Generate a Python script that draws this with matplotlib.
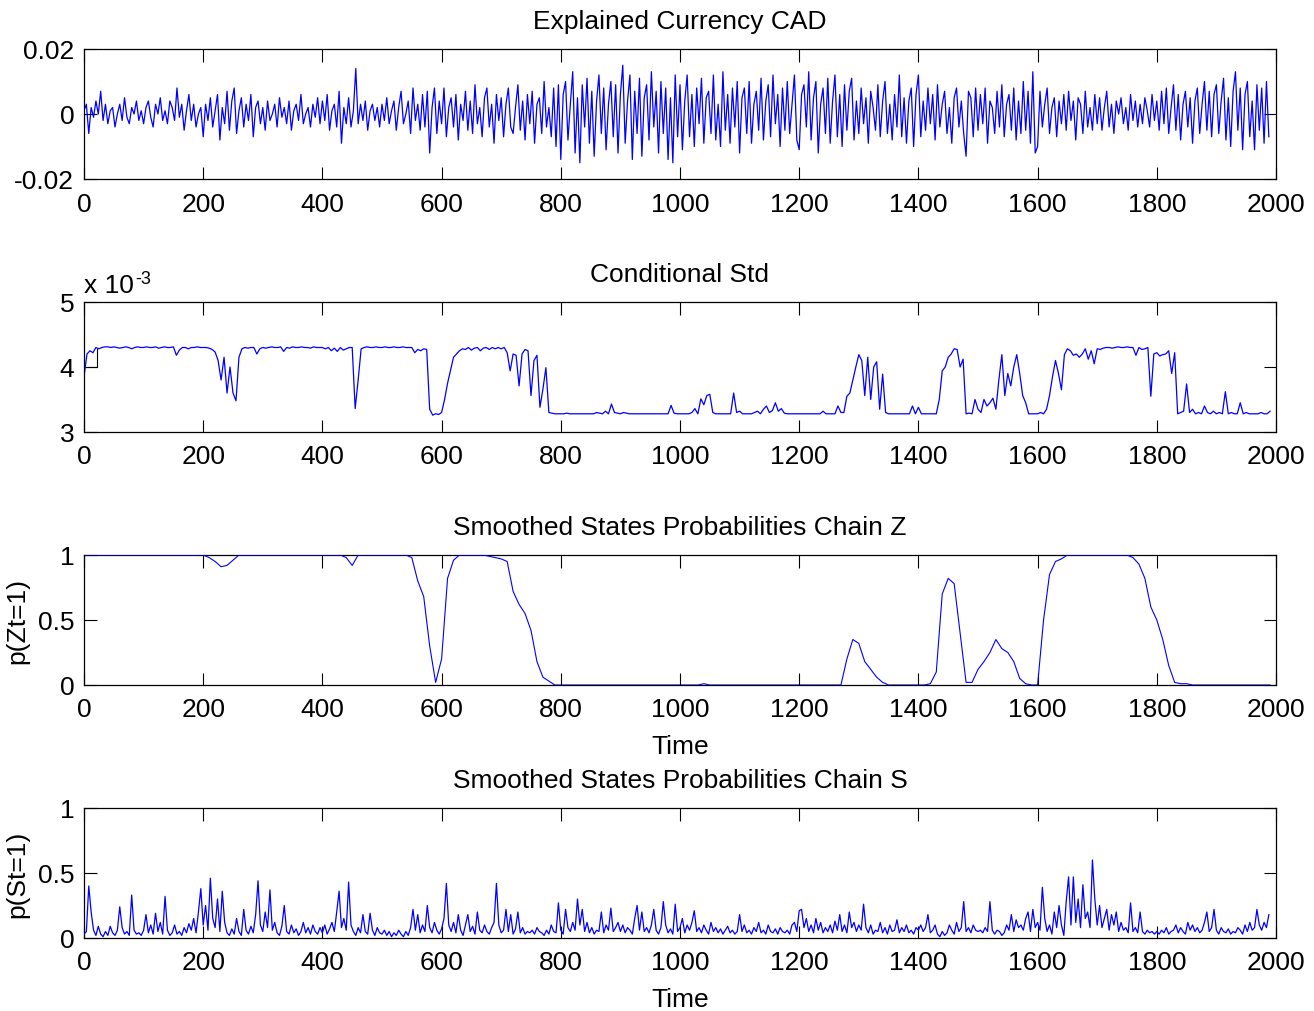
import numpy as np
import matplotlib
matplotlib.use("Agg")
import matplotlib.pyplot as plt

# ---------------- data ----------------
step_fast = 4    # time step of CAD and chain S series
step_std = 5     # time step of the conditional std series
step_z = 10      # time step of chain Z series

# Explained Currency CAD, in units of 1e-3 (25 values per 100 time units)
cad_milli = [
    1, 3, -6, 2, -1, 4, 0, 7, -2, 3, -3, 1, 2, -4, 0, 3, -2, 5, -1, -3, 2, 0, 4, -2, 1,
    -3, 2, 4, -1, -4, 3, 0, 5, -2, 1, -3, 4, 2, -2, 8, -1, 3, -5, 1, 6, -2, 3, -4, 0, 2,
    -7, 3, -2, 5, -4, 1, 6, -8, 2, -3, 7, -5, 4, 8, -6, 1, 5, -4, 3, -2, 6, -7, 2, 4, -3,
    2, -5, 4, -2, 0, 3, -4, 5, -1, 2, -3, 4, -5, 1, 3, -2, 6, -3, 0, 2, -4, 3, -1, 5, -3,
    4, -2, 6, -5, 1, 3, -4, 7, -9, 2, -3, 5, -4, 1, 14, -3, 3, -2, 4, -5, 1, 3, -2, 2, -4,
    3, -2, 5, -3, 1, 4, -5, 2, 7, -3, 0, 4, -6, 8, -2, 3, -5, 6, -4, 7, -12, 2, 8, -6, 4,
    -3, 8, -7, 2, 5, -4, 6, -8, 3, -2, 7, -5, 4, -6, 9, -3, 2, -7, 5, 8, -4, 3, -9, 6, -2,
    5, -7, 3, 8, -4, -6, 2, 9, -5, 4, -8, 6, -3, 7, -9, 3, 5, -6, 10, -4, 2, -7, 8, -10, 9,
    -14, 6, 10, -8, 3, 13, -12, 5, -15, 9, -4, 11, -9, 7, -13, 4, 12, -6, 8, -11, 3, 10, -7, 9, -12,
    6, 15, -9, 4, 12, -14, 7, -6, 11, -13, 5, 9, -8, 13, -4, 7, -12, 10, -6, 8, -14, 5, -15, 12, -7,
    9, -11, 4, 12, -7, 6, -10, 8, -3, 11, -9, 5, 7, -6, 12, -8, 3, -10, 13, -5, 6, -9, 8, -4, 10,
    -12, 5, 8, -6, 10, -9, 3, 7, -5, 11, -8, 4, 9, -7, 12, -3, 6, -10, 8, -5, 10, -6, 3, 12, -8,
    -11, 6, 9, -4, 13, -8, 5, 10, -12, 3, 8, -6, 11, -9, 4, 12, -7, 6, -10, 9, -5, 7, 11, -8, 4,
    -6, 8, -3, 5, -9, 7, 2, -5, 9, -7, 4, 10, -6, 3, -8, 6, -4, 12, -7, 5, -9, 4, 8, -10, 6,
    12, -7, 4, -5, 8, -3, 6, -8, 9, -4, 3, 7, -6, 2, -9, 5, 8, -4, 4, -6, -13, 7, 5, -7, 8,
    -5, 6, -3, 8, -9, 4, 2, -6, 7, -4, 9, -7, 3, 6, -5, 8, -8, 4, -6, 10, -5, 7, -9, 13, -12,
    -10, 7, -4, 3, 8, -6, 2, 5, -7, 4, -3, 6, -5, 7, -2, 4, -8, 5, 3, -6, 7, -4, 2, -5, 6,
    -3, 5, -5, 2, 7, -4, 3, -6, 4, 0, 5, -3, 2, -5, 6, -2, 4, -4, 3, -3, 5, 1, -4, 6, -2,
    4, -5, 7, -3, 8, -6, 2, 9, -5, 6, -8, 3, 7, -4, 5, -9, 4, 8, -6, 3, 10, -5, 7, -7, 6,
    9, -6, 4, 11, -8, 5, -10, 7, 13, -5, 8, -11, 6, 10, -7, 4, -11, 9, -5, 8, -9, 10, -7,
]

# Conditional Std, in units of 1e-3 (20 values per 100 time units)
cond_std_milli = [
    3.85, 4.2, 4.25, 4.22, 4.3, 4.28, 4.3, 4.31, 4.31, 4.3, 4.31, 4.3, 4.29, 4.3, 4.31, 4.3, 4.28, 4.3, 4.31, 4.3,
    4.3, 4.31, 4.3, 4.3, 4.31, 4.29, 4.3, 4.31, 4.3, 4.3, 4.31, 4.18, 4.26, 4.3, 4.3, 4.28, 4.3, 4.3, 4.31, 4.3,
    4.3, 4.3, 4.29, 4.27, 4.23, 4.1, 3.8, 4.15, 3.6, 4.0, 3.6, 3.48, 4.15, 4.28, 4.3, 4.29, 4.3, 4.3, 4.2, 4.28,
    4.3, 4.29, 4.3, 4.31, 4.3, 4.3, 4.31, 4.24, 4.3, 4.29, 4.31, 4.3, 4.3, 4.31, 4.3, 4.3, 4.29, 4.31, 4.3, 4.3,
    4.3, 4.28, 4.3, 4.25, 4.29, 4.24, 4.3, 4.26, 4.28, 4.3, 4.3, 3.36, 3.8, 4.28, 4.3, 4.31, 4.3, 4.3, 4.31, 4.3,
    4.3, 4.31, 4.3, 4.3, 4.31, 4.3, 4.3, 4.31, 4.3, 4.3, 4.3, 4.22, 4.27, 4.25, 4.28, 4.27, 3.35, 3.26, 3.28, 3.27,
    3.3, 3.5, 3.75, 3.95, 4.15, 4.2, 4.25, 4.28, 4.27, 4.3, 4.26, 4.29, 4.3, 4.25, 4.29, 4.3, 4.27, 4.3, 4.28, 4.3,
    4.28, 4.3, 4.22, 3.94, 4.2, 4.18, 3.71, 4.2, 4.27, 4.25, 3.56, 4.1, 4.18, 3.38, 3.66, 3.99, 3.3, 3.29, 3.28, 3.28,
    3.28, 3.28, 3.29, 3.28, 3.28, 3.28, 3.28, 3.28, 3.28, 3.28, 3.28, 3.28, 3.3, 3.29, 3.28, 3.32, 3.28, 3.43, 3.3, 3.29,
    3.28, 3.3, 3.29, 3.28, 3.28, 3.28, 3.28, 3.28, 3.28, 3.28, 3.28, 3.28, 3.28, 3.28, 3.28, 3.28, 3.28, 3.41, 3.29, 3.28,
    3.28, 3.28, 3.28, 3.28, 3.3, 3.36, 3.28, 3.51, 3.42, 3.56, 3.58, 3.3, 3.28, 3.28, 3.28, 3.28, 3.28, 3.28, 3.6, 3.3,
    3.32, 3.28, 3.28, 3.28, 3.28, 3.3, 3.32, 3.28, 3.35, 3.4, 3.3, 3.33, 3.45, 3.32, 3.36, 3.29, 3.28, 3.28, 3.28, 3.28,
    3.28, 3.28, 3.28, 3.28, 3.28, 3.28, 3.28, 3.28, 3.32, 3.28, 3.28, 3.28, 3.28, 3.4, 3.3, 3.3, 3.55, 3.6, 3.8, 4.0,
    4.19, 4.1, 3.56, 4.15, 3.5, 4.0, 4.08, 3.35, 3.89, 3.3, 3.28, 3.28, 3.28, 3.28, 3.28, 3.28, 3.28, 3.28, 3.4, 3.28,
    3.38, 3.28, 3.28, 3.28, 3.28, 3.28, 3.28, 3.5, 3.94, 4.0, 4.15, 4.2, 4.28, 4.27, 4.0, 4.12, 3.28, 3.29, 3.28, 3.5,
    3.35, 3.3, 3.5, 3.4, 3.45, 3.52, 3.35, 3.8, 4.19, 3.56, 3.9, 3.71, 4.0, 4.19, 3.9, 3.56, 3.45, 3.28, 3.28, 3.28,
    3.28, 3.3, 3.28, 3.35, 3.56, 3.85, 4.1, 3.9, 3.65, 4.19, 4.28, 4.25, 4.18, 4.2, 4.15, 4.2, 4.28, 4.12, 4.25, 4.05,
    4.28, 4.27, 4.29, 4.3, 4.3, 4.29, 4.3, 4.31, 4.3, 4.3, 4.31, 4.3, 4.3, 4.18, 4.3, 4.27, 4.28, 4.3, 3.55, 4.2,
    4.22, 4.17, 4.19, 4.2, 4.25, 3.9, 4.22, 3.28, 3.3, 3.32, 3.74, 3.3, 3.35, 3.28, 3.3, 3.28, 3.4, 3.3, 3.28, 3.32,
    3.28, 3.3, 3.28, 3.62, 3.28, 3.3, 3.28, 3.28, 3.45, 3.28, 3.3, 3.28, 3.28, 3.28, 3.28, 3.3, 3.28, 3.28, 3.32,
]
# short black initial-state trace at the start of the Conditional Std panel
init_std_t = [0, 21, 21]
init_std_milli = [4.0, 4.0, 4.28]

# Smoothed probabilities chain Z (10 values per 100 time units)
prob_z = [
    1, 1, 1, 1, 1, 1, 1, 1, 1, 1,
    1, 1, 1, 1, 1, 1, 1, 1, 1, 1,
    1, 0.98, 0.95, 0.91, 0.92, 0.96, 1, 1, 1, 1,
    1, 1, 1, 1, 1, 1, 1, 1, 1, 1,
    1, 1, 1, 1, 0.98, 0.92, 1, 1, 1, 1,
    1, 1, 1, 1, 1, 0.98, 0.8, 0.68, 0.3, 0.02,
    0.2, 0.82, 0.96, 1, 1, 1, 1, 1, 0.99, 0.98,
    0.97, 0.95, 0.72, 0.62, 0.55, 0.42, 0.18, 0.06, 0.03, 0.0,
    0, 0, 0, 0, 0, 0, 0, 0, 0, 0,
    0, 0, 0, 0, 0, 0, 0, 0, 0, 0,
    0, 0, 0, 0, 0.01, 0, 0, 0, 0, 0,
    0, 0, 0, 0, 0, 0, 0, 0, 0, 0,
    0, 0, 0, 0, 0, 0, 0, 0, 0.2, 0.35,
    0.32, 0.18, 0.12, 0.06, 0.02, 0, 0, 0, 0, 0,
    0, 0, 0.01, 0.1, 0.7, 0.82, 0.78, 0.4, 0.02, 0.02,
    0.12, 0.18, 0.25, 0.35, 0.28, 0.25, 0.18, 0.05, 0.01, 0,
    0, 0.5, 0.85, 0.95, 0.97, 1, 1, 1, 1, 1,
    1, 1, 1, 1, 1, 1, 0.98, 0.93, 0.82, 0.6,
    0.5, 0.35, 0.15, 0.02, 0.01, 0.01, 0, 0, 0, 0,
    0, 0, 0, 0, 0, 0, 0, 0, 0, 0,
]

# Smoothed probabilities chain S (25 values per 100 time units)
prob_s = [
    0.03, 0.05, 0.40, 0.2, 0.06, 0.02, 0.09, 0.03, 0.01, 0.05, 0.02, 0.09, 0.04, 0.02, 0.06, 0.24, 0.08, 0.03, 0.05, 0.02, 0.33, 0.06, 0.03, 0.04, 0.02,
    0.06, 0.18, 0.04, 0.1, 0.03, 0.19, 0.05, 0.12, 0.03, 0.32, 0.06, 0.02, 0.04, 0.1, 0.03, 0.05, 0.02, 0.08, 0.04, 0.11, 0.06, 0.15, 0.04, 0.2, 0.38,
    0.1, 0.25, 0.06, 0.46, 0.15, 0.08, 0.3, 0.05, 0.36, 0.12, 0.04, 0.02, 0.07, 0.03, 0.15, 0.05, 0.02, 0.22, 0.06, 0.03, 0.09, 0.04, 0.18, 0.44, 0.1,
    0.05, 0.2, 0.08, 0.37, 0.06, 0.12, 0.04, 0.02, 0.09, 0.25, 0.05, 0.03, 0.1, 0.04, 0.07, 0.02, 0.05, 0.12, 0.04, 0.08, 0.03, 0.1, 0.05, 0.03, 0.08,
    0.04, 0.1, 0.03, 0.07, 0.12, 0.05, 0.2, 0.36, 0.08, 0.15, 0.06, 0.43, 0.1, 0.05, 0.02, 0.08, 0.04, 0.18, 0.05, 0.03, 0.19, 0.06, 0.02, 0.08, 0.04,
    0.03, 0.06, 0.02, 0.05, 0.01, 0.04, 0.02, 0.06, 0.03, 0.01, 0.05, 0.02, 0.08, 0.22, 0.06, 0.18, 0.04, 0.1, 0.05, 0.25, 0.08, 0.04, 0.12, 0.06, 0.03,
    0.07, 0.15, 0.42, 0.1, 0.05, 0.12, 0.04, 0.18, 0.06, 0.02, 0.1, 0.18, 0.05, 0.09, 0.03, 0.2, 0.06, 0.04, 0.1, 0.05, 0.03, 0.08, 0.12, 0.42, 0.1,
    0.04, 0.06, 0.22, 0.05, 0.18, 0.03, 0.07, 0.2, 0.04, 0.08, 0.03, 0.05, 0.04, 0.06, 0.03, 0.08, 0.05, 0.04, 0.02, 0.06, 0.03, 0.1, 0.05, 0.04, 0.27,
    0.06, 0.03, 0.22, 0.08, 0.05, 0.12, 0.06, 0.3, 0.1, 0.22, 0.05, 0.12, 0.04, 0.08, 0.03, 0.06, 0.05, 0.2, 0.04, 0.1, 0.06, 0.23, 0.05, 0.08, 0.12,
    0.05, 0.1, 0.04, 0.08, 0.06, 0.03, 0.15, 0.25, 0.06, 0.2, 0.05, 0.08, 0.04, 0.1, 0.22, 0.06, 0.03, 0.08, 0.28, 0.1, 0.04, 0.07, 0.03, 0.26, 0.05,
    0.08, 0.15, 0.04, 0.1, 0.06, 0.12, 0.21, 0.05, 0.08, 0.04, 0.1, 0.06, 0.03, 0.12, 0.05, 0.08, 0.04, 0.07, 0.03, 0.06, 0.09, 0.04, 0.06, 0.03, 0.05,
    0.18, 0.05, 0.1, 0.04, 0.06, 0.03, 0.08, 0.05, 0.12, 0.04, 0.06, 0.03, 0.1, 0.05, 0.04, 0.07, 0.03, 0.08, 0.05, 0.04, 0.06, 0.03, 0.1, 0.12, 0.05,
    0.21, 0.22, 0.08, 0.15, 0.05, 0.1, 0.04, 0.15, 0.06, 0.12, 0.04, 0.08, 0.05, 0.1, 0.04, 0.13, 0.06, 0.18, 0.05, 0.1, 0.04, 0.2, 0.08, 0.12, 0.05,
    0.1, 0.06, 0.26, 0.08, 0.04, 0.1, 0.03, 0.06, 0.05, 0.12, 0.04, 0.08, 0.03, 0.1, 0.05, 0.06, 0.14, 0.04, 0.08, 0.05, 0.1, 0.04, 0.06, 0.03, 0.08,
    0.06, 0.1, 0.05, 0.08, 0.18, 0.04, 0.06, 0.1, 0.03, 0.01, 0.05, 0.02, 0.04, 0.1, 0.06, 0.03, 0.12, 0.05, 0.08, 0.28, 0.05, 0.08, 0.04, 0.1, 0.06,
    0.05, 0.06, 0.04, 0.08, 0.05, 0.28, 0.06, 0.03, 0.06, 0.05, 0.02, 0.04, 0.1, 0.06, 0.18, 0.05, 0.14, 0.08, 0.1, 0.06, 0.15, 0.2, 0.05, 0.22, 0.08,
    0.12, 0.06, 0.39, 0.15, 0.05, 0.1, 0.03, 0.2, 0.08, 0.25, 0.1, 0.02, 0.28, 0.47, 0.1, 0.47, 0.12, 0.3, 0.08, 0.41, 0.15, 0.2, 0.08, 0.6, 0.3,
    0.1, 0.25, 0.08, 0.15, 0.22, 0.06, 0.18, 0.1, 0.2, 0.05, 0.12, 0.06, 0.08, 0.04, 0.27, 0.05, 0.08, 0.04, 0.2, 0.05, 0.03, 0.06, 0.04, 0.05, 0.03,
    0.05, 0.03, 0.06, 0.04, 0.08, 0.03, 0.05, 0.06, 0.1, 0.04, 0.08, 0.05, 0.03, 0.12, 0.06, 0.1, 0.05, 0.08, 0.04, 0.06, 0.12, 0.2, 0.05, 0.08, 0.22,
    0.06, 0.03, 0.08, 0.05, 0.04, 0.07, 0.03, 0.05, 0.04, 0.08, 0.06, 0.03, 0.1, 0.05, 0.12, 0.06, 0.08, 0.22, 0.1, 0.06, 0.12, 0.08, 0.18,
]

xticks = [0, 200, 400, 600, 800, 1000, 1200, 1400, 1600, 1800, 2000]
titles = ["Explained Currency CAD", "Conditional Std",
          "Smoothed States Probabilities Chain Z",
          "Smoothed States Probabilities Chain S"]

# ---------------- drawing ----------------
plt.rcParams['font.family'] = ['Liberation Sans', 'DejaVu Sans']
plt.rcParams['font.size'] = 19

W, H = 1314, 1012
fig = plt.figure(figsize=(W / 100, H / 100), dpi=100)

left, right = 84 / W, 1276 / W
ax_h = 130 / H
tops_px = [50, 303, 556, 809]
axes = [fig.add_axes([left, 1 - (t + 130) / H, right - left, ax_h]) for t in tops_px]

blue = (0, 0, 1)
t_cad = np.arange(len(cad_milli)) * step_fast
t_std = np.arange(len(cond_std_milli)) * step_std
t_z = np.arange(len(prob_z)) * step_z
t_s = np.arange(len(prob_s)) * step_fast

axes[0].plot(t_cad, np.array(cad_milli) / 1000.0, color=blue, lw=0.9)
axes[1].plot(init_std_t, init_std_milli, color='black', lw=0.8)
axes[1].plot(t_std, cond_std_milli, color=blue, lw=0.9)
axes[2].plot(t_z, prob_z, color=blue, lw=0.8, zorder=3)
axes[3].plot(t_s, prob_s, color=blue, lw=0.9, zorder=3)

axes[0].set_ylim(-0.02, 0.02)
axes[0].set_yticks([-0.02, 0, 0.02])
axes[0].set_yticklabels(["-0.02", "0", "0.02"])
axes[1].set_ylim(3, 5)
axes[1].set_yticks([3, 4, 5])
axes[1].set_yticklabels(["3", "4", "5"])
base = axes[1].text(0.0, 1.04, "x 10", transform=axes[1].transAxes,
                    ha='left', va='bottom', fontsize=19)
axes[1].annotate("-3", xy=(1.0, 1.0), xycoords=base, xytext=(1, 2),
                 textcoords='offset points', ha='left', va='top', fontsize=13)
for ax in axes[2:]:
    ax.set_ylim(0, 1)
    ax.set_yticks([0, 0.5, 1])
    ax.set_yticklabels(["0", "0.5", "1"])

for ax, title in zip(axes, titles):
    ax.set_xlim(0, 2000)
    ax.set_xticks(xticks)
    ax.set_xticklabels([str(v) for v in xticks])
    ax.set_title(title, fontsize=19, pad=15)
    ax.tick_params(direction='in', length=9, width=0.8, top=True, right=True,
                   labelsize=19, pad=9, color='black')
    ax.tick_params(axis='y', pad=7)
    for sp in ax.spines.values():
        sp.set_linewidth(0.9)

axes[2].set_ylabel("p(Zt=1)", fontsize=19, labelpad=6)
axes[3].set_ylabel("p(St=1)", fontsize=19, labelpad=6)
axes[2].set_xlabel("Time", fontsize=19, labelpad=9)
axes[3].set_xlabel("Time", fontsize=19, labelpad=9)

fig.savefig("out.png", dpi=100)
